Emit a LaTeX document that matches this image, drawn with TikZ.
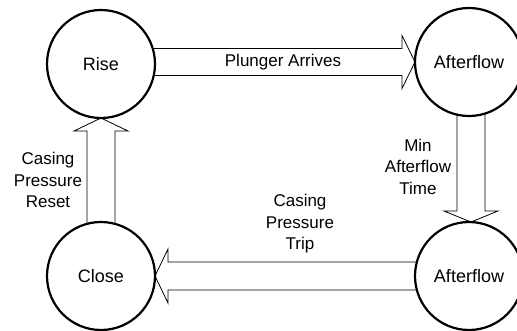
\documentclass[tikz,border=0pt]{standalone}
\usepackage{fontspec}
\setmainfont{Liberation Sans}
\usetikzlibrary{calc}
\begin{document}
\begin{tikzpicture}[x=1pt,y=-1pt,
  state/.style={circle,draw=black,line width=2.2pt,fill=white,minimum size=108pt,inner sep=0pt,font=\fontsize{18}{21.5}\selectfont},
  barrow/.style={draw=black,line width=0.8pt,fill=white,line join=miter},
  lbl/.style={align=center,font=\fontsize{17}{21.5}\selectfont,inner sep=0pt}]
\useasboundingbox (0,0) rectangle (517,330);
\coordinate (pRise) at (101,64);
\coordinate (pAft1) at (469,62);
\coordinate (pClose) at (101,276);
\coordinate (pAft2) at (469,276);
% arrows first (tails hidden under circles)
\path (pAft1) ++(-54,0) coordinate (tipA);
\draw[barrow] ($(pRise)+(0,-2)+(0,-13.5)$) -- ($(tipA)+(-13,-13.5)$) -- ($(tipA)+(-13,-26.5)$) -- (tipA) -- ($(tipA)+(-13,26.5)$) -- ($(tipA)+(-13,13.5)$) -- ($(pRise)+(0,-2)+(0,13.5)$) -- cycle;
\path (pAft2) ++(2,-54) coordinate (tipB);
\draw[barrow] ($(pAft1)+(2,0)+(-14,0)$) -- ($(tipB)+(-14,-11)$) -- ($(tipB)+(-27,-11)$) -- (tipB) -- ($(tipB)+(27,-11)$) -- ($(tipB)+(14,-11)$) -- ($(pAft1)+(2,0)+(14,0)$) -- cycle;
\path (pClose) ++(54,0) coordinate (tipC);
\draw[barrow] ($(pAft2)+(0,-14)$) -- ($(tipC)+(13,-14)$) -- ($(tipC)+(13,-27)$) -- (tipC) -- ($(tipC)+(13,27)$) -- ($(tipC)+(13,14)$) -- ($(pAft2)+(0,14)$) -- cycle;
\path (pRise) ++(0,54) coordinate (tipD);
\draw[barrow] ($(pClose)+(-14,0)$) -- ($(tipD)+(-14,13)$) -- ($(tipD)+(-27,13)$) -- (tipD) -- ($(tipD)+(27,13)$) -- ($(tipD)+(14,13)$) -- ($(pClose)+(14,0)$) -- cycle;
% states
\node[state] (rise) at (pRise) {Rise};
\node[state] (aft1) at (pAft1) {Afterflow};
\node[state] (close) at (pClose) {Close};
\node[state] (aft2) at (pAft2) {Afterflow};
% labels
\node[lbl] (l1) at (283,62) {Plunger Arrives};
\node[lbl] (l2) at (418,166.5) {Min\\Afterflow\\Time};
\node[lbl] (l3) at (48,180) {Casing\\Pressure\\Reset};
\node[lbl] (l4) at (300,224) {Casing\\Pressure\\Trip};
\end{tikzpicture}
\end{document}
